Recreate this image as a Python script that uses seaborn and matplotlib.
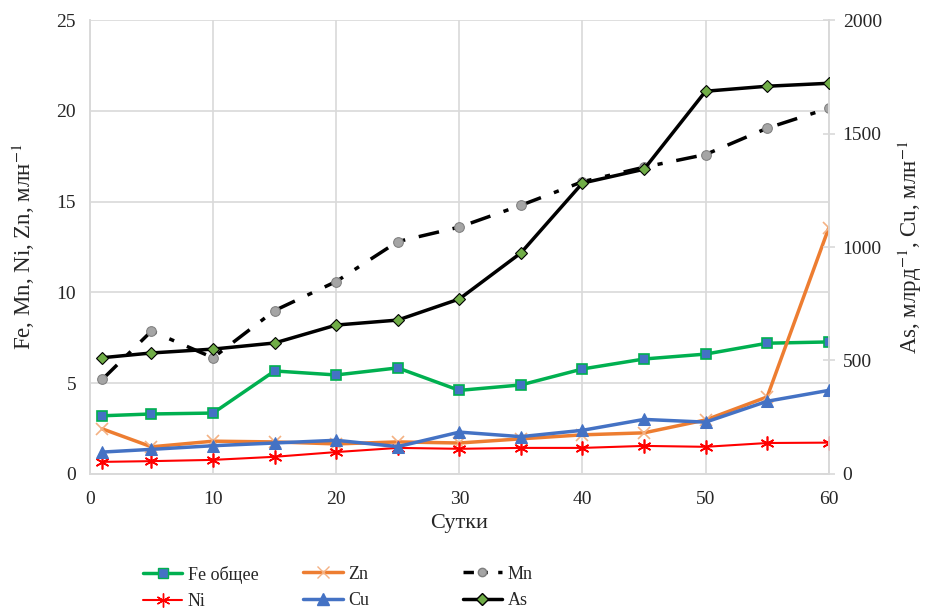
import matplotlib
matplotlib.use('Agg')
import matplotlib.pyplot as plt
import seaborn as sns
from matplotlib.lines import Line2D

# Data
days = [1, 5, 10, 15, 20, 25, 30, 35, 40, 45, 50, 55, 60]
fe = [3.2, 3.3, 3.35, 5.67, 5.45, 5.84, 4.6, 4.9, 5.78, 6.33, 6.6, 7.2, 7.27]
zn = [2.48, 1.49, 1.8, 1.76, 1.65, 1.76, 1.7, 1.93, 2.15, 2.26, 2.97, 4.24, 13.55]
mn = [5.2, 7.87, 6.4, 9.0, 10.6, 12.8, 13.6, 14.8, 16.1, 16.9, 17.6, 19.05, 20.15]
ni = [0.66, 0.7, 0.77, 0.94, 1.2, 1.43, 1.38, 1.43, 1.43, 1.54, 1.49, 1.7, 1.72]
# right axis (As, млрд^-1 ; Cu, млн^-1 on the same right scale)
cu = [96, 108, 124, 136, 148, 120, 184, 164, 192, 240, 228, 320, 368]
as_ = [512, 533, 550, 577, 656, 678, 771, 974, 1282, 1343, 1687, 1709, 1722]

sns.set_style('white')
plt.rcParams['font.family'] = ['Liberation Serif', 'DejaVu Serif']
plt.rcParams['mathtext.fontset'] = 'stix'

fig = plt.figure(figsize=(9.27, 6.13), dpi=100)
ax = fig.add_axes([0.097, 0.227, 0.797, 0.740])
ax2 = ax.twinx()

grid_c = '#d9d9d9'
txt_c = '#262626'

# left-axis series
sns.lineplot(x=days, y=fe, ax=ax, color='#00B050', lw=2.5, marker='s', ms=7,
             mfc='#4472C4', mec='#00B050', mew=1.2, zorder=3)
sns.lineplot(x=days, y=zn, ax=ax, color='#ED7D31', lw=2.5, marker='x', ms=8,
             mec='#F4B183', mew=1.2, zorder=3)
sns.lineplot(x=days, y=ni, ax=ax, color='#FF0000', lw=1.5, marker=(6, 2, 0), ms=10,
             mec='#FF0000', mew=1.2, zorder=3)
sns.lineplot(x=days, y=mn, ax=ax, color='black', lw=2.5, linestyle=(0, (6, 4, 1.5, 4)),
             marker='o', ms=7, mfc='#A5A5A5', mec='#7f7f7f', zorder=2)

# right-axis series
sns.lineplot(x=days, y=cu, ax=ax2, color='#4472C4', lw=2.5, marker='^', ms=9,
             mfc='#4472C4', mec='#4472C4', zorder=3)
sns.lineplot(x=days, y=as_, ax=ax2, color='black', lw=2.5, marker='D', ms=6,
             mfc='#70AD47', mec='black', mew=0.8, zorder=4)

ax.set_xlim(0, 60)
ax.set_ylim(0, 25)
ax2.set_ylim(0, 2000)
ax.set_xticks(range(0, 61, 10))
ax.set_yticks(range(0, 26, 5))
ax2.set_yticks(range(0, 2001, 500))

ax.grid(True, color=grid_c, lw=1.2)
ax.set_axisbelow(True)
for a in (ax, ax2):
    for s in a.spines.values():
        s.set_color(grid_c)
        s.set_linewidth(1.2)
ax.spines['top'].set_visible(False)
ax2.spines['top'].set_visible(False)

ax.tick_params(axis='y', length=0, labelsize=14, colors=txt_c, pad=10)
ax.tick_params(axis='x', length=0, labelsize=14, colors=txt_c, pad=12)
ax2.tick_params(axis='y', direction='inout', length=8, color=grid_c, width=1.2,
                labelsize=14, labelcolor=txt_c, pad=6)

ax.set_xlabel('Сутки', fontsize=16, color=txt_c, labelpad=5)
ax.set_ylabel('Fe, Mn, Ni, Zn, млн$^{-1}$', fontsize=16.5, color=txt_c, labelpad=14)
ax2.set_ylabel('As, млрд$^{-1}$, Cu, млн$^{-1}$', fontsize=16.5, color=txt_c, labelpad=10)

# legend, three columns placed separately
def h(color, lw, marker, ms, mfc=None, mec=None, ls='-'):
    return Line2D([], [], color=color, lw=lw, marker=marker, ms=ms, ls=ls,
                  mfc=mfc if mfc else color, mec=mec if mec else color)

cols = [
    ([h('#00B050', 2.5, 's', 7, '#4472C4', '#00B050'), h('#FF0000', 1.5, (6, 2, 0), 10)],
     ['Fe общее', 'Ni'], 0.154),
    ([h('#ED7D31', 2.5, 'x', 8, None, '#F4B183'), h('#4472C4', 2.5, '^', 9)],
     ['Zn', 'Cu'], 0.327),
    ([h('black', 2.5, 'o', 6, '#A5A5A5', '#7f7f7f', ls=(0, (3, 3, 1, 3))),
      h('black', 2.5, 'D', 6, '#70AD47', 'black')],
     ['Mn', 'As'], 0.499),
]
for handles, labels, x0 in cols:
    fig.legend(handles, labels, loc='upper left', bbox_to_anchor=(x0, 0.077),
               bbox_transform=fig.transFigure, frameon=False, fontsize=13,
               handlelength=2.2, handletextpad=0.3, labelspacing=0.5,
               borderpad=0, borderaxespad=0)

fig.savefig('out.png', dpi=100)
